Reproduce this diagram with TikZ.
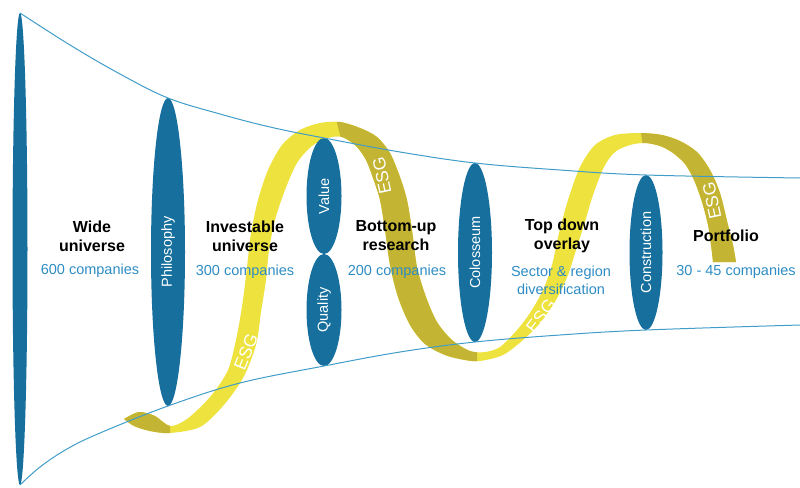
\documentclass[tikz,border=0pt]{standalone}
\usepackage{fontspec}
\setmainfont{Liberation Sans}
\usetikzlibrary{shapes.geometric}
\definecolor{stageblue}{RGB}{22,111,157}
\definecolor{countblue}{RGB}{46,140,196}
\definecolor{funnelblue}{RGB}{64,156,200}
\definecolor{esgfront}{RGB}{238,226,62}
\definecolor{esgback}{RGB}{196,180,52}
% outline of the ESG ribbon, one edge out and the other back
\newcommand{\ribbonpath}{plot[smooth] coordinates {(124,419) (139,412) (155,416) (170,426) (187,419) (210,397) (228,370) (237,335) (243,300) (247,267) (251,233) (258,200) (268,170) (282,145) (300,130) (320,123) (340,122) (360,128) (377,137) (390,153) (400,177) (407,200) (412,230) (417,267) (426,297) (437,322) (452,340) (470,351) (485,352) (500,347) (517,330) (530,313) (543,290) (552,265) (559,233) (568,200) (580,167) (595,145) (615,135) (640,133) (662,135) (680,141) (697,152) (710,170) (720,193) (728,225) (733,245) (736,262)}
	-- plot[smooth] coordinates {(713,262) (711,245) (708,225) (702,202) (694,180) (685,164) (673,153) (660,146) (645,143) (630,145) (615,152) (604,167) (593,195) (584,225) (576,250) (568,275) (556,300) (540,323) (523,340) (503,355) (480,361) (465,360) (445,355) (425,344) (410,325) (398,297) (390,265) (385,230) (380,200) (373,178) (366,160) (356,146) (342,137) (328,138) (312,146) (297,163) (285,190) (275,220) (269,250) (266,280) (261,312) (256,345) (243,378) (223,406) (200,427) (170,433) (150,431) (134,426) (124,419)} -- cycle}

\begin{document}
\begin{tikzpicture}[x=1pt,y=-1pt,
	stage/.style={ellipse,fill=stageblue,inner sep=0pt,outer sep=0pt,rotate=90,text=white,font=\fontsize{14.5}{17}\selectfont},
	title/.style={align=center,inner sep=0pt,font=\fontsize{16}{19}\selectfont\bfseries},
	count/.style={align=center,inner sep=0pt,text=countblue,font=\fontsize{14.5}{17.5}\selectfont},
	esglabel/.style={inner sep=0pt,text=white,font=\fontsize{17.5}{17.5}\selectfont},
	funnel/.style={draw=funnelblue,line width=1pt}]

	\useasboundingbox (0,0) rectangle (800,487);

%	ribbon: front in light yellow, the parts behind darker
	\fill[esgfront] \ribbonpath;
	\begin{scope}
		\clip (100,380) -- (170,380) -- (170,450) -- (100,450) -- cycle
			(331,100) -- (477,100) -- (477,400) -- (344,400) -- (344,150) -- cycle
			(636,100) -- (800,100) -- (800,300) -- (645,300) -- (645,160) -- cycle;
		\fill[esgback] \ribbonpath;
	\end{scope}

	\node[stage,minimum width=308,minimum height=34]	(philosophy)	at (168,252)	{Philosophy};
	\node[stage,minimum width=472,minimum height=15]	(wide)			at (20,249)		{};
	\node[stage,minimum width=116,minimum height=35]	(value)			at (324,196)	{Value};
	\node[stage,minimum width=112,minimum height=35]	(quality)		at (324,310)	{Quality};
	\node[stage,minimum width=179,minimum height=34]	(colosseum)		at (475,252.5)	{Colosseum};
	\node[stage,minimum width=155,minimum height=33]	(construction)	at (646,252.5)	{Construction};

	\coordinate (topend)	at (800,178);
	\coordinate (botend)	at (800,325);

	\draw[funnel] plot[smooth,tension=0.6] coordinates {(wide.east) (70,45) (120,74) (philosophy.east) (220,114) (270,127) (value.east) (400,152) (colosseum.east) (560,170) (construction.east) (topend)};
	\draw[funnel] plot[smooth,tension=0.6] coordinates {(wide.west) (40,467) (67,449) (100,433) (philosophy.west) (240,383) (quality.west) (400,352) (colosseum.west) (560,335) (construction.west) (botend)};

	\node[title]	(widetitle)			at (92,236)		{Wide\\universe};
	\node[count]	(widecount)			at (90,271)		{600 companies};
	\node[title]	(investtitle)		at (245,236)	{Investable\\universe};
	\node[count]	(investcount)		at (245,272)	{300 companies};
	\node[title]	(bottomtitle)		at (396,236)	{Bottom-up\\research};
	\node[count]	(bottomcount)		at (397,272)	{200 companies};
	\node[title]	(topdowntitle)		at (562,236)	{Top down\\overlay};
	\node[count]	(topdowncount)		at (561,280.5)	{Sector \& region\\diversification};
	\node[title]	(portfoliotitle)	at (726,236)	{Portfolio};
	\node[count]	(portfoliocount)	at (736,272)	{30 - 45 companies};

	\node[esglabel,rotate=68]	(esgone)	at (246,352)	{ESG};
	\node[esglabel,rotate=102]	(esgtwo)	at (382,176)	{ESG};
	\node[esglabel,rotate=53]	(esgthree)	at (541,316)	{ESG};
	\node[esglabel,rotate=102]	(esgfour)	at (712,201)	{ESG};

\end{tikzpicture}
\end{document}
